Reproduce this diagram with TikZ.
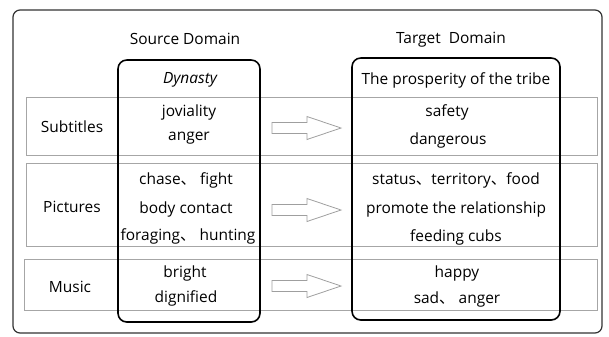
\documentclass[tikz,border=0pt]{standalone}
\usepackage{fontspec}
\setmainfont{Open Sans}
\newfontfamily\cjkfont{Noto Sans CJK SC}
\newcommand\dun{{\cjkfont 、}}
\usetikzlibrary{positioning}

\begin{document}
\begin{tikzpicture}[
  x=0.02cm, y=-0.02cm,
  frame/.style={draw=black!80, line width=0.7pt, rounded corners=4pt},
  domainbox/.style={draw=black, line width=0.9pt, rounded corners=5pt},
  band/.style={draw=gray!70, line width=0.45pt},
  hollow/.style={draw=gray!75, fill=white, line width=0.45pt},
  txt/.style={font=\fontsize{8.8}{10}\selectfont, inner sep=1pt, text=black}
]
  \useasboundingbox (0,0) rectangle (609,336);

  % Outer frame
  \draw[frame] (13,10) rectangle (602,333);

  % Rows
  \draw[band] (26,97) rectangle (597,155);
  \draw[band] (26,163) rectangle (597,246);
  \draw[band] (24,259) rectangle (597,310);

  % Domain columns
  \draw[domainbox] (118,60) rectangle (260,322);
  \draw[domainbox] (352,58) rectangle (560,320);

  % Mapping arrows
  \foreach \y in {128,210,286}
    \draw[hollow] (272,\y) ++(0,-5.5) -- ++(35,0) -- ++(0,-6) -- ++(34,11.5)
      -- ++(-34,11.5) -- ++(0,-6) -- ++(-35,0) -- cycle;

  % Headings
  \node[txt] (src) at (185,39) {Source Domain};
  \node[txt] (tgt) at (451,40) {Target\ \ Domain};
  \node[txt, font=\fontsize{8.8}{10}\selectfont\itshape] (dyn) at (190,80) {Dynasty};
  \node[txt] (tribe) at (456,80) {The prosperity of the tribe};

  % Row labels
  \node[txt] (sub) at (72,127) {Subtitles};
  \node[txt] (pic) at (72,207) {Pictures};
  \node[txt] (mus) at (70,287) {Music};

  % Subtitles
  \node[txt] (jov) at (189,112) {joviality};
  \node[txt] (ang) at (189,138) {anger};
  \node[txt] (saf) at (447,112) {safety};
  \node[txt] (dan) at (448,140) {dangerous};

  % Pictures
  \node[txt] (chase) at (186,180) {chase\dun\ fight};
  \node[txt] (body) at (186,209) {body contact};
  \node[txt] (forage) at (188,236) {foraging\dun\ hunting};
  \node[txt] (status) at (456,180) {status\dun territory\dun food};
  \node[txt] (promo) at (456,209) {promote the relationship};
  \node[txt] (feed) at (456,237) {feeding cubs};

  % Music
  \node[txt] (bri) at (185,273) {bright};
  \node[txt] (dig) at (186,298) {dignified};
  \node[txt] (hap) at (457,273) {happy};
  \node[txt] (sad) at (457,299) {sad\dun\ anger};
\end{tikzpicture}
\end{document}
